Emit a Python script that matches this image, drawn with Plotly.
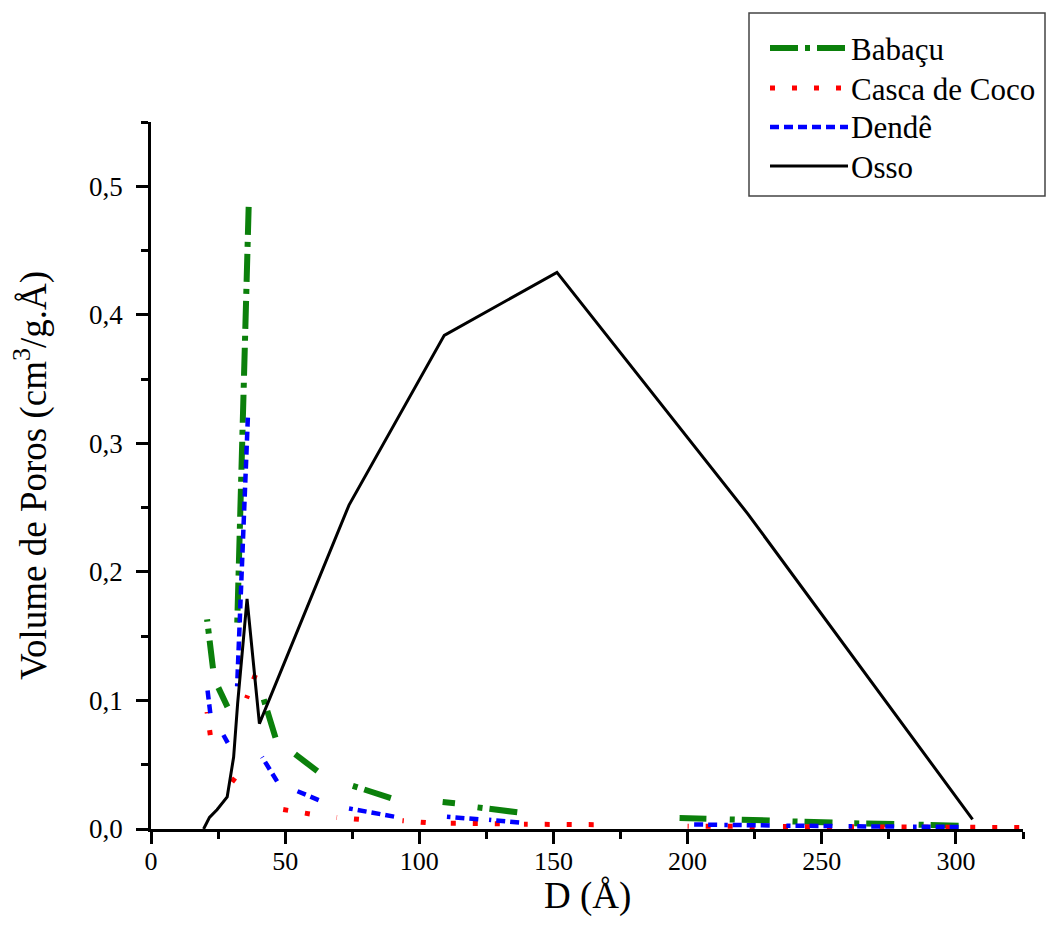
import plotly.graph_objects as go

# ---------------- data (pore diameter D in Å, pore volume in cm3/g.Å) ----------------
# Babaçu, Casca de Coco and Dendê: points are connected two by two (segment plot)
babacu_D = [20.9, 23.1, 25.1, 28.5, 32.1, 36.4, 41.4, 46.4, 53.2, 62.0, 73.2, 89.4,
            108.7, 113.3, 119.5, 136.5, 197.0, 207.0, 213.7, 230.6, 236.8, 254.0,
            260.0, 277.0, 284.0, 301.0]
babacu_V = [0.163, 0.125, 0.110, 0.095, 0.157, 0.484, 0.105, 0.071, 0.059, 0.045, 0.035, 0.024,
            0.021, 0.020, 0.0174, 0.013, 0.0086, 0.0080, 0.0076, 0.0066, 0.0060, 0.0050,
            0.0045, 0.0038, 0.0034, 0.0026]

casca_D = [20.9, 22.1, 26.5, 31.5, 35.6, 38.9, 46.8, 59.2, 69.2, 77.5, 93.7, 102.4,
           111.1, 130.0, 139.0, 165.0, 200.0, 225.0, 232.0, 262.0, 268.0, 298.0, 302.0, 323.6]
casca_V = [0.091, 0.073, 0.0446, 0.037, 0.1016, 0.120, 0.016, 0.0117, 0.009, 0.0075, 0.0065, 0.005,
           0.0045, 0.0040, 0.0037, 0.0034, 0.0022, 0.0020, 0.0019, 0.0017, 0.0016, 0.0014, 0.0013, 0.0012]

dende_D = [20.9, 22.1, 26.5, 28.6, 32.1, 36.1, 41.4, 47.0, 53.9, 62.5, 73.8, 90.6,
           110.3, 122.0, 126.0, 137.2, 200.6, 211.0, 213.7, 230.6, 236.8, 254.0,
           260.0, 277.0, 284.0, 301.0]
dende_V = [0.111, 0.090, 0.075, 0.067, 0.111, 0.320, 0.056, 0.037, 0.030, 0.0225, 0.016, 0.0096,
           0.0096, 0.0075, 0.0072, 0.0050, 0.0036, 0.0033, 0.0032, 0.0028, 0.0026, 0.0023,
           0.0021, 0.0019, 0.0018, 0.0016]

osso_D = [19.6, 21.8, 24.6, 28.4, 30.8, 32.3, 35.8, 40.4, 73.8, 109.3, 151.3, 222.5, 306.2]
osso_V = [0.0, 0.009, 0.015, 0.025, 0.056, 0.098, 0.179, 0.082, 0.252, 0.384, 0.433, 0.245, 0.0075]

series_names = ["Babaçu", "Casca de Coco", "Dendê", "Osso"]
x_ticks = [0, 50, 100, 150, 200, 250, 300]
y_ticks = [0.0, 0.1, 0.2, 0.3, 0.4, 0.5]
x_title = "D (Å)"
y_title = "Volume de Poros (cm<sup>3</sup>/g.Å)"


def pairs(D, V):
    """Connect points two by two (drawn from the larger diameter, as in the BJH table)."""
    xs, ys = [], []
    for i in range(0, len(D) - 1, 2):
        xs += [D[i + 1], D[i], None]
        ys += [V[i + 1], V[i], None]
    return xs, ys


FONT = "Liberation Serif"
styles = [
    dict(color="#0b800b", width=6, dash="28px,7px,5px,7px"),
    dict(color="#ff0000", width=5, dash="5px,17px"),
    dict(color="#0000ff", width=4.5, dash="9px,5px"),
    dict(color="black", width=3, dash="solid"),
]

fig = go.Figure()
for (D, V), name, st in zip([(babacu_D, babacu_V), (casca_D, casca_V), (dende_D, dende_V)],
                            series_names[:3], styles[:3]):
    xs, ys = pairs(D, V)
    fig.add_trace(go.Scatter(x=xs, y=ys, mode="lines", name=name, connectgaps=False,
                             line=st, showlegend=False))
fig.add_trace(go.Scatter(x=osso_D, y=osso_V, mode="lines", name=series_names[3],
                         line=styles[3], showlegend=False))

axis_common = dict(
    showline=True, linecolor="black", linewidth=2.5, mirror=False,
    showgrid=False, zeroline=False, automargin=False,
    ticks="outside", ticklen=12, tickwidth=2.5, tickcolor="black",
)

fig.update_xaxes(
    range=[0, 325], tickvals=x_ticks, ticktext=[str(v) for v in x_ticks],
    tickfont=dict(family=FONT, size=26, color="black"), ticklabelstandoff=-5,
    minor=dict(ticks="outside", ticklen=7, tickwidth=2.5, tickcolor="black", dtick=25, tick0=0),
    **axis_common,
)
fig.update_yaxes(
    range=[0, 0.55], tickvals=y_ticks, tickformat=".1f",
    tickfont=dict(family=FONT, size=27, color="black"), ticklabelstandoff=8,
    minor=dict(ticks="outside", ticklen=7, tickwidth=2.5, tickcolor="black", dtick=0.05, tick0=0),
    title=dict(text=y_title, font=dict(family=FONT, size=37, color="black"), standoff=32),
    **axis_common,
)

# ---------------- pixel-derived paper coordinates ----------------
L, B, W, H = 151, 829, 872, 707          # plot-area left, bottom, width, height (px)
px = lambda v: (v - L) / W
py = lambda v: (B - v) / H

# x-axis title
fig.add_annotation(xref="paper", yref="paper", x=0.5, y=py(896), xanchor="center", yanchor="middle",
                   showarrow=False, text=x_title, font=dict(family=FONT, size=37, color="black"))

# legend (frame, line samples, labels)
fig.add_shape(type="rect", xref="paper", yref="paper",
              x0=px(749), x1=px(1045), y0=py(196), y1=py(13),
              line=dict(color="#444444", width=1.5), fillcolor="white", layer="above")
legend_rows = [48, 88, 127, 166]
for name, st, yrow in zip(series_names, styles, legend_rows):
    fig.add_shape(type="line", xref="paper", yref="paper",
                  x0=px(770), x1=px(848), y0=py(yrow), y1=py(yrow),
                  line=dict(color=st["color"], width=st["width"], dash=st["dash"]), layer="above")
    fig.add_annotation(xref="paper", yref="paper", x=px(849), y=py(yrow + 1),
                       xanchor="left", yanchor="middle", showarrow=False, text=name,
                       font=dict(family=FONT, size=31, color="black"))

fig.update_layout(
    width=1046, height=931,
    margin=dict(l=L, r=1046 - L - W, t=B - H, b=931 - B, autoexpand=False),
    paper_bgcolor="white", plot_bgcolor="white",
    separators=",.",
    showlegend=False,
)

fig.write_html("out.html")
